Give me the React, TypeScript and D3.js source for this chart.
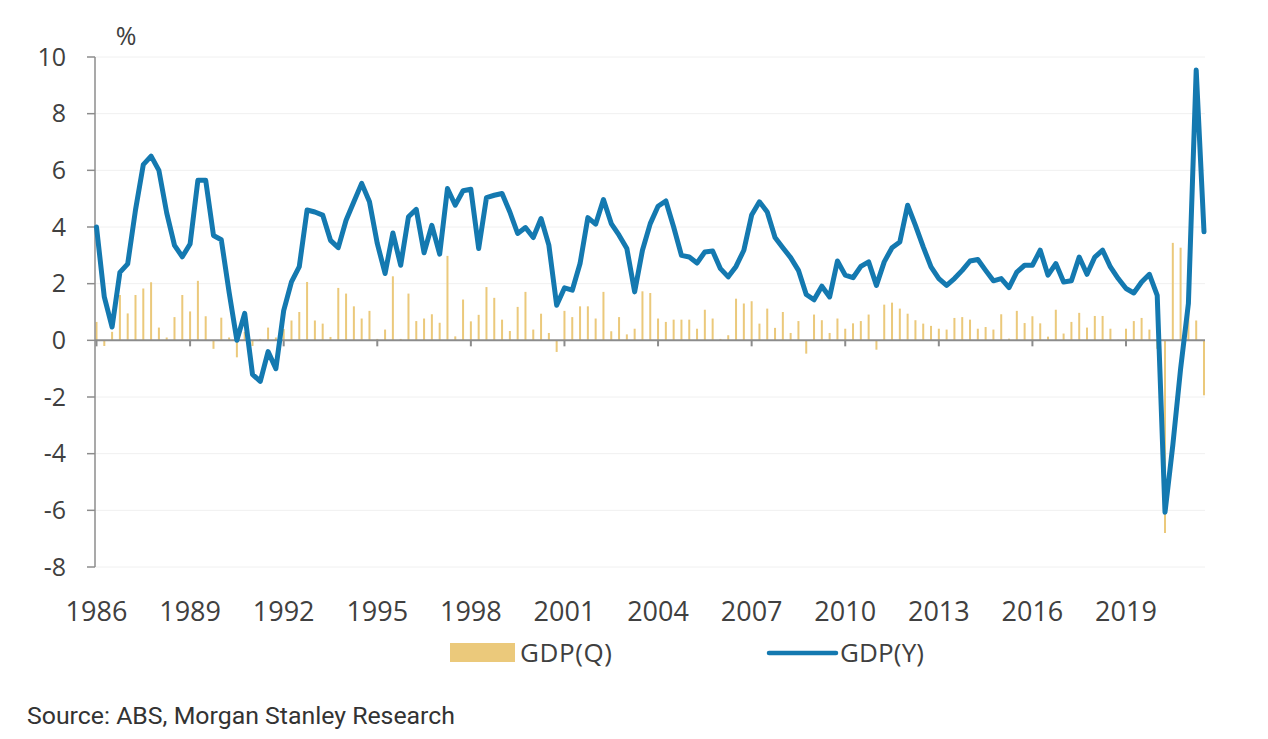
import * as d3 from "d3";
import { useEffect, useRef } from "react";

// quarterly categories, 1986Q1 .. 2021Q3
const quarters = d3.range(143).map((i) => `${1986 + Math.floor(i / 4)}Q${(i % 4) + 1}`);

const yearLabels = ["1986", "1989", "1992", "1995", "1998", "2001", "2004", "2007", "2010", "2013", "2016", "2019"];
const yTicks = [-8, -6, -4, -2, 0, 2, 4, 6, 8, 10];

// GDP q/q %
const gdpQ = [
  0.65, -0.2, 0.3, 1.6, 0.95, 1.6, 1.83, 2.05, 0.45, 0.1, 0.82, 1.6,
  1.02, 2.1, 0.85, -0.3, 0.8, 0.1, -0.6, 0.3, -0.2, 0.05, 0.45, 0.1,
  0.4, 0.7, 1.0, 2.06, 0.7, 0.59, 0.12, 1.85, 1.65, 1.2, 0.77, 1.04,
  0.05, 0.38, 2.26, 0.05, 1.65, 0.68, 0.77, 0.92, 0.62, 2.98, 0.14, 1.44,
  0.67, 0.9, 1.88, 1.5, 0.73, 0.33, 1.18, 1.71, 0.38, 0.94, 0.26, -0.41,
  1.04, 0.82, 1.2, 1.2, 0.77, 1.71, 0.32, 0.82, 0.21, 0.41, 1.73, 1.67,
  0.77, 0.65, 0.73, 0.73, 0.73, 0.41, 1.08, 0.77, 0.05, 0.18, 1.47, 1.3,
  1.38, 0.59, 1.12, 0.44, 1.0, 0.26, 0.68, -0.47, 0.91, 0.71, 0.26, 0.77,
  0.41, 0.6, 0.68, 0.91, -0.33, 1.26, 1.33, 1.12, 0.94, 0.71, 0.59, 0.51,
  0.41, 0.38, 0.79, 0.82, 0.73, 0.41, 0.47, 0.38, 0.92, 0.06, 1.04, 0.61,
  0.85, 0.6, 0.13, 1.08, 0.24, 0.65, 0.97, 0.45, 0.86, 0.86, 0.41, 0.02,
  0.41, 0.68, 0.79, 0.38, -0.3, -6.8, 3.44, 3.27, 1.8, 0.7, -1.94,
];

// GDP y/y %
const gdpY = [
  4.0, 1.53, 0.47, 2.4, 2.7, 4.6, 6.2, 6.5, 6.0, 4.5, 3.35, 2.95,
  3.4, 5.65, 5.65, 3.7, 3.55, 1.7, 0.0, 0.95, -1.2, -1.45, -0.4, -1.0,
  1.05, 2.06, 2.6, 4.6, 4.53, 4.42, 3.53, 3.27, 4.24, 4.89, 5.54, 4.89,
  3.42, 2.36, 3.79, 2.65, 4.36, 4.62, 3.09, 4.06, 3.04, 5.36, 4.77, 5.28,
  5.33, 3.24, 5.04, 5.12, 5.18, 4.53, 3.77, 3.98, 3.63, 4.3, 3.36, 1.24,
  1.85, 1.77, 2.71, 4.33, 4.1, 4.97, 4.12, 3.71, 3.24, 1.71, 3.18, 4.12,
  4.73, 4.92, 4.0, 3.0, 2.94, 2.73, 3.12, 3.15, 2.53, 2.24, 2.61, 3.18,
  4.42, 4.89, 4.53, 3.63, 3.27, 2.92, 2.47, 1.62, 1.43, 1.91, 1.53, 2.8,
  2.3, 2.21, 2.61, 2.77, 1.94, 2.77, 3.27, 3.47, 4.77, 4.06, 3.3, 2.59,
  2.18, 1.94, 2.18, 2.47, 2.8, 2.85, 2.47, 2.1, 2.18, 1.86, 2.41, 2.65,
  2.65, 3.18, 2.3, 2.71, 2.06, 2.1, 2.94, 2.33, 2.94, 3.18, 2.59, 2.18,
  1.83, 1.67, 2.06, 2.33, 1.59, -6.07, -3.7, -1.0, 1.3, 9.54, 3.83,
];

const barColor = "#ebc97b";
const lineColor = "#1479b0";
const axisColor = "#8c8c8c";
const textColor = "#404040";

function GdpChart() {
  const svgRef = useRef<SVGSVGElement>(null);

  useEffect(() => {
    const svg = d3.select(svgRef.current);
    svg.selectAll("*").remove();

    const left = 95;
    const right = 1205;
    const x = d3.scalePoint<string>().domain(quarters).range([96.5, 1204]);
    const y = d3.scaleLinear().domain([-8, 10]).range([567, 57]);

    svg.append("rect").attr("width", 1268).attr("height", 739).attr("fill", "#ffffff");

    // gridlines
    svg
      .append("g")
      .selectAll("line")
      .data(yTicks)
      .join("line")
      .attr("x1", left)
      .attr("x2", right)
      .attr("y1", (d) => y(d))
      .attr("y2", (d) => y(d))
      .attr("stroke", "#f0f0f0")
      .attr("stroke-width", 1);

    // quarterly bars
    svg
      .append("g")
      .selectAll("rect")
      .data(gdpQ)
      .join("rect")
      .attr("x", (_, i) => (x(quarters[i]) ?? 0) - 1)
      .attr("width", 2)
      .attr("y", (d) => Math.min(y(d), y(0)))
      .attr("height", (d) => Math.abs(y(d) - y(0)))
      .attr("fill", barColor);

    // y axis
    svg
      .append("line")
      .attr("x1", left)
      .attr("x2", left)
      .attr("y1", y(10))
      .attr("y2", y(-8))
      .attr("stroke", axisColor)
      .attr("stroke-width", 1.5);

    const yAxis = svg.append("g");
    yAxis
      .selectAll("line")
      .data(yTicks)
      .join("line")
      .attr("x1", left - 8)
      .attr("x2", left)
      .attr("y1", (d) => y(d))
      .attr("y2", (d) => y(d))
      .attr("stroke", axisColor)
      .attr("stroke-width", 1.5);
    yAxis
      .selectAll("text")
      .data(yTicks)
      .join("text")
      .attr("x", 66)
      .attr("y", (d) => y(d))
      .attr("dy", "0.35em")
      .attr("text-anchor", "end")
      .attr("font-family", "'Open Sans', sans-serif")
      .attr("font-size", 25)
      .attr("fill", textColor)
      .text((d) => String(d));

    // x axis at zero
    svg
      .append("line")
      .attr("x1", left)
      .attr("x2", right)
      .attr("y1", y(0))
      .attr("y2", y(0))
      .attr("stroke", axisColor)
      .attr("stroke-width", 2);

    const xAxis = svg.append("g");
    xAxis
      .selectAll("line")
      .data(yearLabels)
      .join("line")
      .attr("x1", (d) => x(`${d}Q1`) ?? 0)
      .attr("x2", (d) => x(`${d}Q1`) ?? 0)
      .attr("y1", y(0))
      .attr("y2", y(0) + 6)
      .attr("stroke", axisColor)
      .attr("stroke-width", 2);
    xAxis
      .selectAll("text")
      .data(yearLabels)
      .join("text")
      .attr("x", (d) => x(`${d}Q1`) ?? 0)
      .attr("y", 621)
      .attr("text-anchor", "middle")
      .attr("font-family", "'Open Sans', sans-serif")
      .attr("font-size", 27)
      .attr("fill", textColor)
      .text((d) => d);

    // annual growth line
    const line = d3
      .line<number>()
      .x((_, i) => x(quarters[i]) ?? 0)
      .y((d) => y(d));
    svg
      .append("path")
      .datum(gdpY)
      .attr("d", line)
      .attr("fill", "none")
      .attr("stroke", lineColor)
      .attr("stroke-width", 5)
      .attr("stroke-linejoin", "round")
      .attr("stroke-linecap", "round");

    svg
      .append("text")
      .attr("x", 126)
      .attr("y", 45)
      .attr("text-anchor", "middle")
      .attr("font-family", "'Open Sans', sans-serif")
      .attr("font-size", 25)
      .attr("fill", textColor)
      .text("%");

    // legend
    const legend = svg.append("g").attr("font-family", "'Open Sans', sans-serif").attr("font-size", 26).attr("fill", textColor);
    legend.append("rect").attr("x", 450).attr("y", 643).attr("width", 65).attr("height", 19).attr("fill", barColor);
    legend.append("text").attr("x", 520).attr("y", 662).attr("textLength", 92).text("GDP(Q)");
    legend
      .append("line")
      .attr("x1", 769)
      .attr("x2", 836)
      .attr("y1", 653)
      .attr("y2", 653)
      .attr("stroke", lineColor)
      .attr("stroke-width", 4.5)
      .attr("stroke-linecap", "round");
    legend.append("text").attr("x", 840).attr("y", 662).attr("textLength", 84).text("GDP(Y)");

    svg
      .append("text")
      .attr("x", 27)
      .attr("y", 724)
      .attr("font-family", "Roboto, sans-serif")
      .attr("font-size", 23)
      .attr("fill", "#333333")
      .attr("textLength", 428)
      .attr("lengthAdjust", "spacingAndGlyphs")
      .text("Source: ABS, Morgan Stanley Research");
  }, []);

  return <svg ref={svgRef} width={1268} height={739} style={{ position: "absolute", left: 0, top: 0 }} />;
}

export default function App() {
  return <GdpChart />;
}
